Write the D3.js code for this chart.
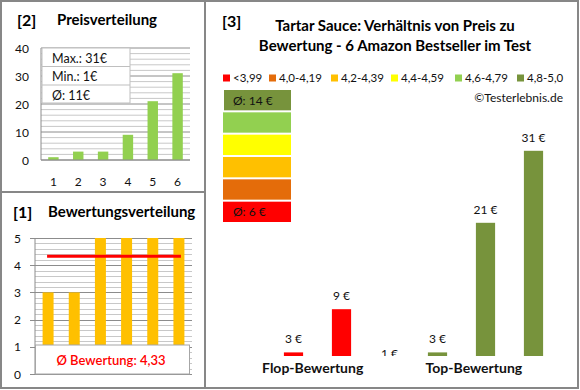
<!DOCTYPE html>
<html>
<head>
<meta charset="utf-8">
<script src="https://cdn.jsdelivr.net/npm/d3@7"></script>
<style>
  body { margin: 0; background: #fff; }
  svg { display: block; font-family: Lato, "Open Sans", sans-serif; }
</style>
</head>
<body>
<svg id="chart"></svg>
<script>
// data
const priceCats = ["1", "2", "3", "4", "5", "6"];
const priceVals = [1, 3, 3, 9, 21, 31];
const priceTicks = [0, 10, 20, 30, 40];
const priceStats = ["Max.: 31€", "Min.: 1€", "Ø: 11€"];

const ratingVals = [3, 3, 5, 5, 5, 5];
const ratingTicks = [0, 1, 2, 3, 4, 5];
const ratingAvg = 4.33;
const ratingAvgLabel = "Ø Bewertung: 4,33";

const legendLabels = ["<3,99", "4,0-4,19", "4,2-4,39", "4,4-4,59", "4,6-4,79", "4,8-5,0"];
const legendColors = ["#ff0000", "#e46c0a", "#ffc000", "#ffff00", "#92d050", "#77933c"];
const scaleLabels = ["Ø: 14 €", "", "", "", "", "Ø: 6 €"];

const mainCats = ["f1", "f2", "mid", "t1", "t2", "t3"];
const mainVals = [3, 9, 1, 3, 21, 31];
const mainColors = ["#ff0000", "#ff0000", "#ffc000", "#77933c", "#77933c", "#77933c"];
const groupLabels = ["Flop-Bewertung", "Top-Bewertung"];

const W = 580, H = 390;
const svg = d3.select("#chart").attr("width", W).attr("height", H);
svg.append("rect").attr("width", W).attr("height", H).attr("fill", "#fff");

// frame
const frame = svg.append("g").attr("stroke", "#878787").attr("stroke-width", 2).attr("fill", "none");
frame.append("rect").attr("x", 1).attr("y", 1).attr("width", 577).attr("height", 387);
frame.append("line").attr("x1", 205).attr("x2", 205).attr("y1", 1).attr("y2", 388);
frame.append("line").attr("x1", 1).attr("x2", 205).attr("y1", 192).attr("y2", 192);

const txtColor = "#111";
const titleSize = 15;

/////////////////////////////////////////////////////////////
// [2] Preisverteilung
{
  const g = svg.append("g");
  g.append("text").attr("x", 17).attr("y", 26).attr("font-size", 16).attr("font-weight", "bold").text("[2]");
  g.append("text").attr("x", 57).attr("y", 25).attr("font-size", titleSize).attr("font-weight", "bold").text("Preisverteilung");

  const x = d3.scaleBand().domain(priceCats).range([41, 190]).paddingInner(0.58).paddingOuter(0.29);
  const y = d3.scaleLinear().domain([0, 40]).range([160, 48]);

  g.append("g").selectAll("line").data(d3.range(0, 41, 2)).join("line")
    .attr("x1", 41).attr("x2", 190).attr("y1", d => y(d)).attr("y2", d => y(d))
    .attr("stroke", d => d % 10 === 0 ? "#8c8c8c" : "#c8c8c8").attr("stroke-width", 1);

  g.append("g").selectAll("rect").data(priceVals).join("rect")
    .attr("x", (d, i) => x(priceCats[i])).attr("width", x.bandwidth())
    .attr("y", d => y(d)).attr("height", d => y(0) - y(d)).attr("fill", "#92d050");

  g.append("line").attr("x1", 41).attr("x2", 41).attr("y1", 48).attr("y2", 160).attr("stroke", "#8c8c8c");
  g.append("line").attr("x1", 41).attr("x2", 190).attr("y1", 160).attr("y2", 160).attr("stroke", "#8c8c8c");

  g.append("g").selectAll("text").data(priceTicks).join("text")
    .attr("x", 29).attr("y", d => y(d) + 4.5).attr("text-anchor", "end").attr("font-size", 12).attr("fill", txtColor)
    .text(d => d);
  g.append("g").selectAll("text").data(priceCats).join("text")
    .attr("x", d => x(d) + x.bandwidth() / 2).attr("y", 186).attr("text-anchor", "middle")
    .attr("font-size", 12).attr("fill", txtColor).text(d => d);

  // stats box
  const box = g.append("g").attr("transform", "translate(42,48)");
  box.append("rect").attr("width", 88).attr("height", 55).attr("fill", "#fff").attr("stroke", "#bfbfbf");
  box.selectAll("line").data([1, 2]).join("line")
    .attr("x1", 0).attr("x2", 88).attr("y1", i => i * 18.5).attr("y2", i => i * 18.5).attr("stroke", "#bfbfbf");
  box.selectAll("text").data(priceStats).join("text")
    .attr("x", 10).attr("y", (d, i) => i * 18.3 + 15).attr("font-size", 12.5).attr("fill", txtColor).text(d => d);
}

/////////////////////////////////////////////////////////////
// [1] Bewertungsverteilung
{
  const g = svg.append("g");
  g.append("text").attr("x", 13).attr("y", 218).attr("font-size", 16).attr("font-weight", "bold").text("[1]");
  g.append("text").attr("x", 48).attr("y", 217).attr("font-size", titleSize).attr("font-weight", "bold").text("Bewertungsverteilung");

  const x = d3.scaleBand().domain(d3.range(ratingVals.length)).range([35, 192]).paddingInner(0.58).paddingOuter(0.29);
  const y = d3.scaleLinear().domain([0, 5]).range([374, 238]);

  g.append("g").selectAll("line").data(d3.range(0, 5.01, 0.2)).join("line")
    .attr("x1", d => Math.abs(d - Math.round(d)) < 1e-6 ? 30 : 35).attr("x2", 192)
    .attr("y1", d => Math.round(y(d)) + 0.5).attr("y2", d => Math.round(y(d)) + 0.5)
    .attr("stroke", d => Math.abs(d - Math.round(d)) < 1e-6 ? "#8c8c8c" : "#c8c8c8");

  g.append("g").selectAll("rect").data(ratingVals).join("rect")
    .attr("x", (d, i) => x(i)).attr("width", x.bandwidth())
    .attr("y", d => y(d)).attr("height", d => y(0) - y(d)).attr("fill", "#ffc000");

  g.append("line").attr("x1", 35).attr("x2", 35).attr("y1", 238).attr("y2", 374).attr("stroke", "#8c8c8c");

  g.append("line")
    .attr("x1", x(0) + x.bandwidth() / 2 - 1).attr("x2", x(ratingVals.length - 1) + x.bandwidth() / 2 + 2)
    .attr("y1", y(ratingAvg)).attr("y2", y(ratingAvg)).attr("stroke", "#ff0000").attr("stroke-width", 3);

  g.append("g").selectAll("text").data(ratingTicks).join("text")
    .attr("x", 21).attr("y", d => y(d) + 4.5).attr("text-anchor", "end").attr("font-size", 12).attr("fill", txtColor)
    .text(d => d);

  g.append("rect").attr("x", 35.5).attr("y", 345).attr("width", 154).attr("height", 29)
    .attr("fill", "#fff").attr("stroke", "#a6a6a6");
  g.append("text").attr("x", 111).attr("y", 364.5).attr("text-anchor", "middle").attr("font-size", 13)
    .attr("font-weight", 600).attr("fill", "#ff0000").text(ratingAvgLabel);
}

/////////////////////////////////////////////////////////////
// [3] Preis zu Bewertung
{
  const g = svg.append("g");
  g.append("text").attr("x", 222).attr("y", 27).attr("font-size", 16).attr("font-weight", "bold").text("[3]");
  g.append("text").attr("x", 395).attr("y", 31).attr("text-anchor", "middle").attr("font-size", titleSize)
    .attr("font-weight", "bold").text("Tartar Sauce: Verhältnis von Preis zu");
  g.append("text").attr("x", 395).attr("y", 51).attr("text-anchor", "middle").attr("font-size", titleSize)
    .attr("font-weight", "bold").text("Bewertung - 6 Amazon Bestseller im Test");

  // legend
  const legX = [223, 269, 331, 391, 455, 517];
  const leg = g.append("g").selectAll("g").data(legendLabels).join("g")
    .attr("transform", (d, i) => `translate(${legX[i]},78)`);
  leg.append("rect").attr("x", 0).attr("y", -3.5).attr("width", 7).attr("height", 7).attr("fill", (d, i) => legendColors[i]);
  leg.append("text").attr("x", 10).attr("y", 4).attr("font-size", 11.5).attr("fill", txtColor).text(d => d);

  g.append("text").attr("x", 563).attr("y", 102).attr("text-anchor", "end").attr("font-size", 12)
    .attr("fill", txtColor).text("©Testerlebnis.de");

  // colour scale stack
  const stack = legendColors.slice().reverse();
  const sy = d3.scaleBand().domain(d3.range(stack.length)).range([90, 222]).paddingInner(0.09);
  const st = g.append("g").selectAll("g").data(stack).join("g");
  st.append("rect").attr("x", (d, i) => i === 0 ? 224 : 223).attr("width", (d, i) => i === 0 ? 67 : 68)
    .attr("y", (d, i) => sy(i)).attr("height", sy.bandwidth()).attr("fill", d => d);
  st.append("text").attr("x", 233).attr("y", (d, i) => sy(i) + sy.bandwidth() / 2 + 4.5)
    .attr("font-size", 12).attr("fill", txtColor).text((d, i) => scaleLabels[i]);

  // bars
  const x = d3.scaleBand().domain(mainCats).range([269.5, 557.5]).paddingInner(0.6).paddingOuter(0.3);
  const y0 = 2.5;
  const y = d3.scaleLinear().domain([y0, 33]).range([356, 136.4]);

  svg.append("clipPath").attr("id", "plot3").append("rect").attr("x", 206).attr("y", 60).attr("width", 370).attr("height", 296);
  const plot = g.append("g").attr("clip-path", "url(#plot3)");

  plot.selectAll("rect").data(mainVals).join("rect")
    .attr("x", (d, i) => x(mainCats[i])).attr("width", x.bandwidth())
    .attr("y", d => Math.min(y(d), y(y0))).attr("height", d => Math.max(0, y(y0) - y(d)))
    .attr("fill", (d, i) => mainColors[i]);
  plot.selectAll("text").data(mainVals).join("text")
    .attr("x", (d, i) => x(mainCats[i]) + x.bandwidth() / 2).attr("y", d => y(d) - 9)
    .attr("text-anchor", "middle").attr("font-size", 12).attr("fill", txtColor).text(d => `${d} €`);

  const step = x.step();
  const groupX = [x(mainCats[0]) + step * 0.6, x(mainCats[4]) - 2];
  g.selectAll(".grp").data(groupLabels).join("text")
    .attr("x", (d, i) => groupX[i]).attr("y", 373).attr("text-anchor", "middle")
    .attr("font-size", 14).attr("font-weight", "bold").attr("fill", txtColor).text(d => d);
}
</script>
</body>
</html>
